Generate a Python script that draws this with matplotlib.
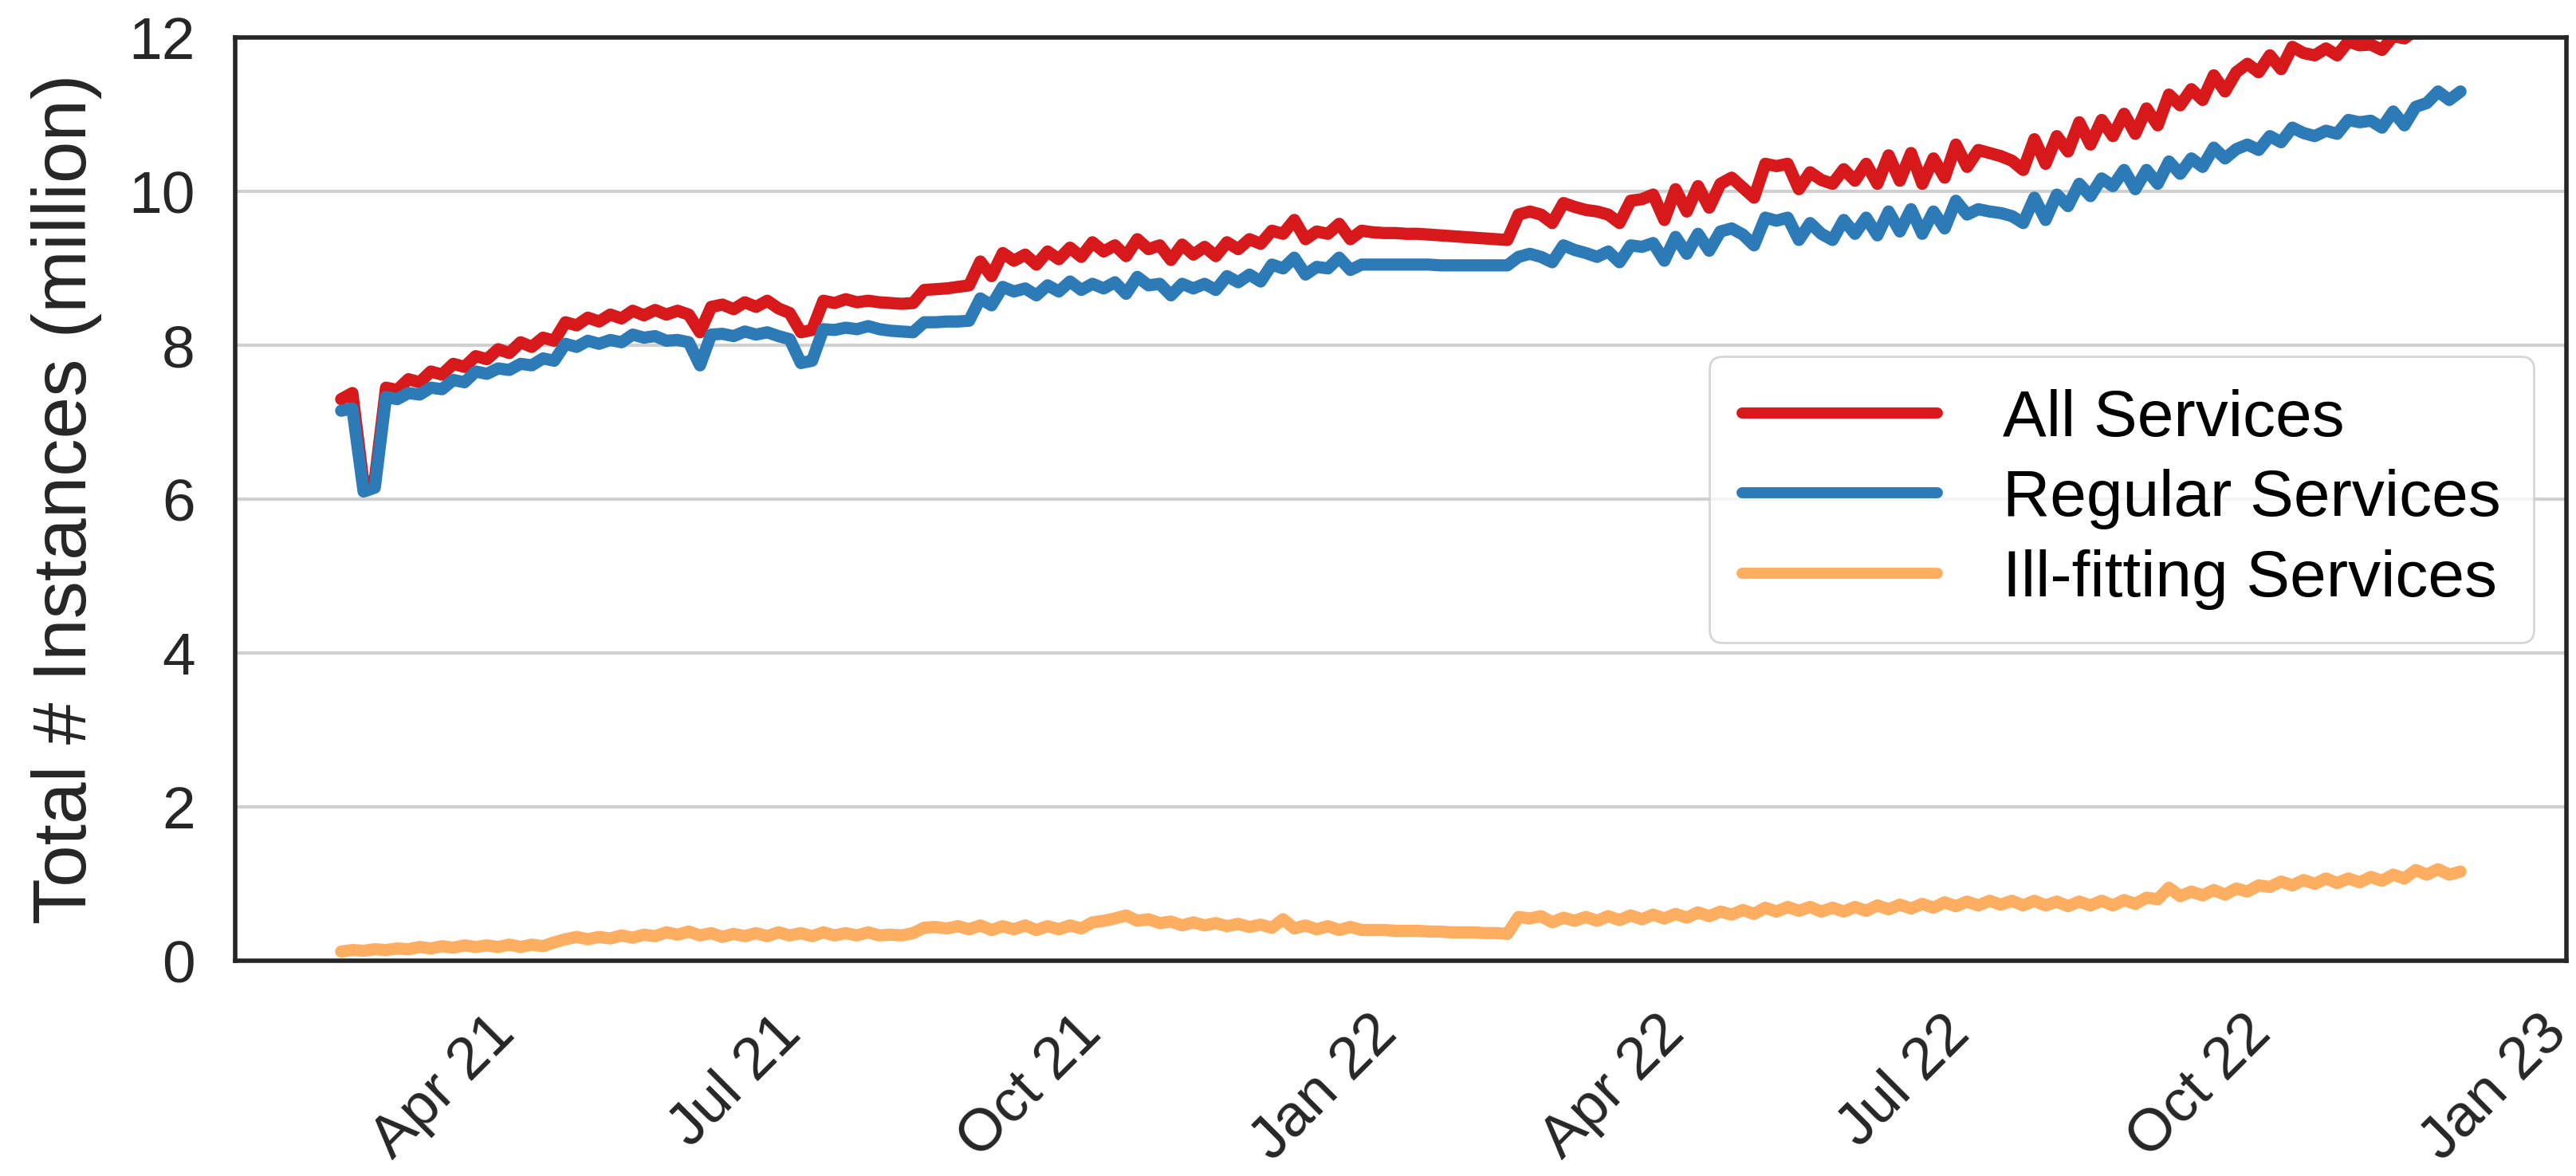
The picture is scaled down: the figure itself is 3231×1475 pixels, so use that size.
import pandas as pd
import matplotlib
matplotlib.use("Agg")
import matplotlib.pyplot as plt
import matplotlib.dates as mdates

# half-weekly samples (every 3.5 days)
start_date = "2021-02-28"

all_services = [
    7.30, 7.38, 6.20, 6.25, 7.45, 7.42, 7.56, 7.52, 7.66, 7.62,
    7.76, 7.72, 7.86, 7.82, 7.95, 7.90, 8.04, 7.98, 8.10, 8.06,
    8.30, 8.26, 8.36, 8.31, 8.40, 8.35, 8.45, 8.39, 8.46, 8.40,
    8.45, 8.40, 8.17, 8.50, 8.53, 8.47, 8.56, 8.50, 8.58, 8.48,
    8.42, 8.17, 8.20, 8.58, 8.55, 8.60, 8.56, 8.58, 8.56, 8.55,
    8.54, 8.55, 8.72, 8.73, 8.74, 8.76, 8.78, 9.09, 8.90, 9.20,
    9.10, 9.18, 9.05, 9.22, 9.12, 9.27, 9.15, 9.34, 9.22, 9.30,
    9.16, 9.38, 9.25, 9.30, 9.11, 9.31, 9.18, 9.28, 9.16, 9.34,
    9.25, 9.38, 9.32, 9.49, 9.45, 9.63, 9.38, 9.48, 9.45, 9.58,
    9.38, 9.49, 9.47, 9.46, 9.46, 9.45, 9.45, 9.44, 9.43, 9.42,
    9.41, 9.40, 9.39, 9.38, 9.37, 9.70, 9.74, 9.70, 9.59, 9.85,
    9.80, 9.76, 9.74, 9.70, 9.59, 9.88, 9.90, 9.96, 9.63, 10.03,
    9.74, 10.07, 9.79, 10.10, 10.18, 10.05, 9.92, 10.36, 10.33, 10.36,
    10.03, 10.25, 10.15, 10.10, 10.29, 10.14, 10.36, 10.10, 10.47, 10.14,
    10.50, 10.10, 10.43, 10.18, 10.61, 10.32, 10.54, 10.50, 10.46, 10.40,
    10.28, 10.68, 10.36, 10.72, 10.52, 10.90, 10.61, 10.93, 10.72, 11.01,
    10.75, 11.08, 10.86, 11.26, 11.12, 11.33, 11.19, 11.51, 11.30, 11.55,
    11.66, 11.55, 11.77, 11.59, 11.88, 11.80, 11.77, 11.86, 11.77, 11.95,
    11.90, 11.91, 11.84, 12.02, 11.99, 12.10, 12.15, 12.25, 12.20, 12.30,
]

regular_services = [
    7.15, 7.18, 6.10, 6.15, 7.33, 7.30, 7.38, 7.36, 7.45, 7.43,
    7.55, 7.52, 7.66, 7.63, 7.70, 7.68, 7.76, 7.74, 7.83, 7.80,
    8.02, 7.98, 8.06, 8.02, 8.07, 8.04, 8.14, 8.10, 8.12, 8.06,
    8.07, 8.04, 7.74, 8.14, 8.15, 8.12, 8.18, 8.14, 8.17, 8.12,
    8.08, 7.77, 7.80, 8.21, 8.20, 8.23, 8.21, 8.25, 8.21, 8.19,
    8.18, 8.17, 8.30, 8.30, 8.31, 8.31, 8.32, 8.61, 8.52, 8.76,
    8.70, 8.74, 8.65, 8.78, 8.70, 8.83, 8.72, 8.80, 8.74, 8.82,
    8.67, 8.89, 8.78, 8.80, 8.65, 8.80, 8.74, 8.80, 8.72, 8.90,
    8.82, 8.92, 8.83, 9.05, 9.00, 9.14, 8.92, 9.02, 9.00, 9.14,
    8.98, 9.05, 9.05, 9.05, 9.05, 9.05, 9.05, 9.05, 9.04, 9.04,
    9.04, 9.04, 9.04, 9.04, 9.04, 9.15, 9.19, 9.15, 9.08, 9.30,
    9.24, 9.20, 9.15, 9.22, 9.08, 9.30, 9.28, 9.33, 9.10, 9.41,
    9.19, 9.45, 9.23, 9.48, 9.52, 9.44, 9.30, 9.66, 9.62, 9.66,
    9.37, 9.59, 9.45, 9.37, 9.63, 9.45, 9.66, 9.43, 9.74, 9.48,
    9.77, 9.45, 9.74, 9.52, 9.88, 9.70, 9.77, 9.74, 9.72, 9.68,
    9.59, 9.92, 9.63, 9.96, 9.81, 10.10, 9.94, 10.17, 10.07, 10.28,
    10.03, 10.28, 10.10, 10.39, 10.23, 10.43, 10.32, 10.57, 10.43, 10.55,
    10.61, 10.54, 10.72, 10.64, 10.83, 10.76, 10.72, 10.79, 10.75, 10.93,
    10.90, 10.92, 10.83, 11.04, 10.86, 11.10, 11.15, 11.30, 11.19, 11.30,
]

ill_fitting_services = [
    0.12, 0.14, 0.13, 0.15, 0.14, 0.16, 0.15, 0.18, 0.16, 0.19,
    0.17, 0.20, 0.18, 0.20, 0.18, 0.21, 0.18, 0.21, 0.19, 0.24,
    0.28, 0.31, 0.28, 0.31, 0.29, 0.33, 0.30, 0.34, 0.32, 0.37,
    0.34, 0.38, 0.33, 0.36, 0.31, 0.35, 0.32, 0.36, 0.32, 0.37,
    0.33, 0.36, 0.32, 0.37, 0.33, 0.36, 0.33, 0.37, 0.33, 0.34,
    0.33, 0.36, 0.43, 0.44, 0.42, 0.45, 0.41, 0.46, 0.40, 0.45,
    0.41, 0.46, 0.40, 0.45, 0.41, 0.46, 0.42, 0.50, 0.52, 0.55,
    0.59, 0.52, 0.54, 0.49, 0.51, 0.46, 0.50, 0.46, 0.49, 0.45,
    0.48, 0.44, 0.47, 0.43, 0.54, 0.42, 0.46, 0.41, 0.45, 0.40,
    0.44, 0.40, 0.40, 0.40, 0.39, 0.39, 0.39, 0.38, 0.38, 0.37,
    0.37, 0.37, 0.36, 0.36, 0.35, 0.57, 0.55, 0.58, 0.50, 0.56,
    0.52, 0.57, 0.52, 0.58, 0.53, 0.59, 0.54, 0.60, 0.55, 0.61,
    0.56, 0.63, 0.58, 0.64, 0.60, 0.66, 0.61, 0.69, 0.64, 0.70,
    0.65, 0.70, 0.64, 0.69, 0.64, 0.70, 0.65, 0.72, 0.67, 0.73,
    0.68, 0.74, 0.69, 0.76, 0.71, 0.77, 0.72, 0.78, 0.73, 0.78,
    0.72, 0.78, 0.72, 0.77, 0.71, 0.77, 0.72, 0.78, 0.72, 0.79,
    0.74, 0.82, 0.80, 0.95, 0.84, 0.90, 0.85, 0.92, 0.86, 0.94,
    0.90, 0.98, 0.96, 1.03, 0.98, 1.05, 1.00, 1.07, 1.01, 1.07,
    1.02, 1.09, 1.04, 1.12, 1.07, 1.18, 1.12, 1.19, 1.12, 1.16,
]

series_labels = ["All Services", "Regular Services", "Ill-fitting Services"]
series_colors = ["#d7191c", "#2c7bb6", "#fdae61"]

plt.rcParams["font.family"] = ["Liberation Sans", "DejaVu Sans"]

fig = plt.figure(figsize=(16.155, 7.375), dpi=200)
ax = fig.add_axes([0.0913, 0.183, 0.905, 0.785])

for vals, lab, col in zip([all_services, regular_services, ill_fitting_services],
                          series_labels, series_colors):
    dates = pd.date_range(start_date, periods=len(vals), freq="84h")
    ax.plot(dates, vals, color=col, linewidth=5.5, label=lab,
            solid_capstyle="round", solid_joinstyle="round")

ax.set_ylim(0, 12)
ax.set_yticks([0, 2, 4, 6, 8, 10, 12])
ax.set_ylabel("Total # Instances (million)", fontsize=34, color="#262626", labelpad=12)

ax.xaxis.set_major_locator(mdates.MonthLocator(bymonth=[1, 4, 7, 10]))
ax.xaxis.set_major_formatter(mdates.DateFormatter("%b %y"))
for lbl in ax.get_xticklabels():
    lbl.set_rotation(45)
    lbl.set_ha("center")

ax.tick_params(axis="x", length=0, pad=20, labelsize=27, labelcolor="#262626")
ax.tick_params(axis="y", length=0, pad=18, labelsize=27, labelcolor="#262626")

ax.grid(True, axis="y", color="#d0d0d0", linewidth=1.5)
ax.set_axisbelow(True)
for sp in ax.spines.values():
    sp.set_color("#262626")
    sp.set_linewidth(2.0)

leg = ax.legend(loc="center right", fontsize=29.5, handlelength=3.0,
                handletextpad=1.0, labelspacing=0.3, borderpad=0.5,
                fancybox=True, framealpha=0.8, edgecolor="#cccccc")
for line in leg.get_lines():
    line.set_linewidth(5.0)

fig.savefig("out.png", dpi=200)
